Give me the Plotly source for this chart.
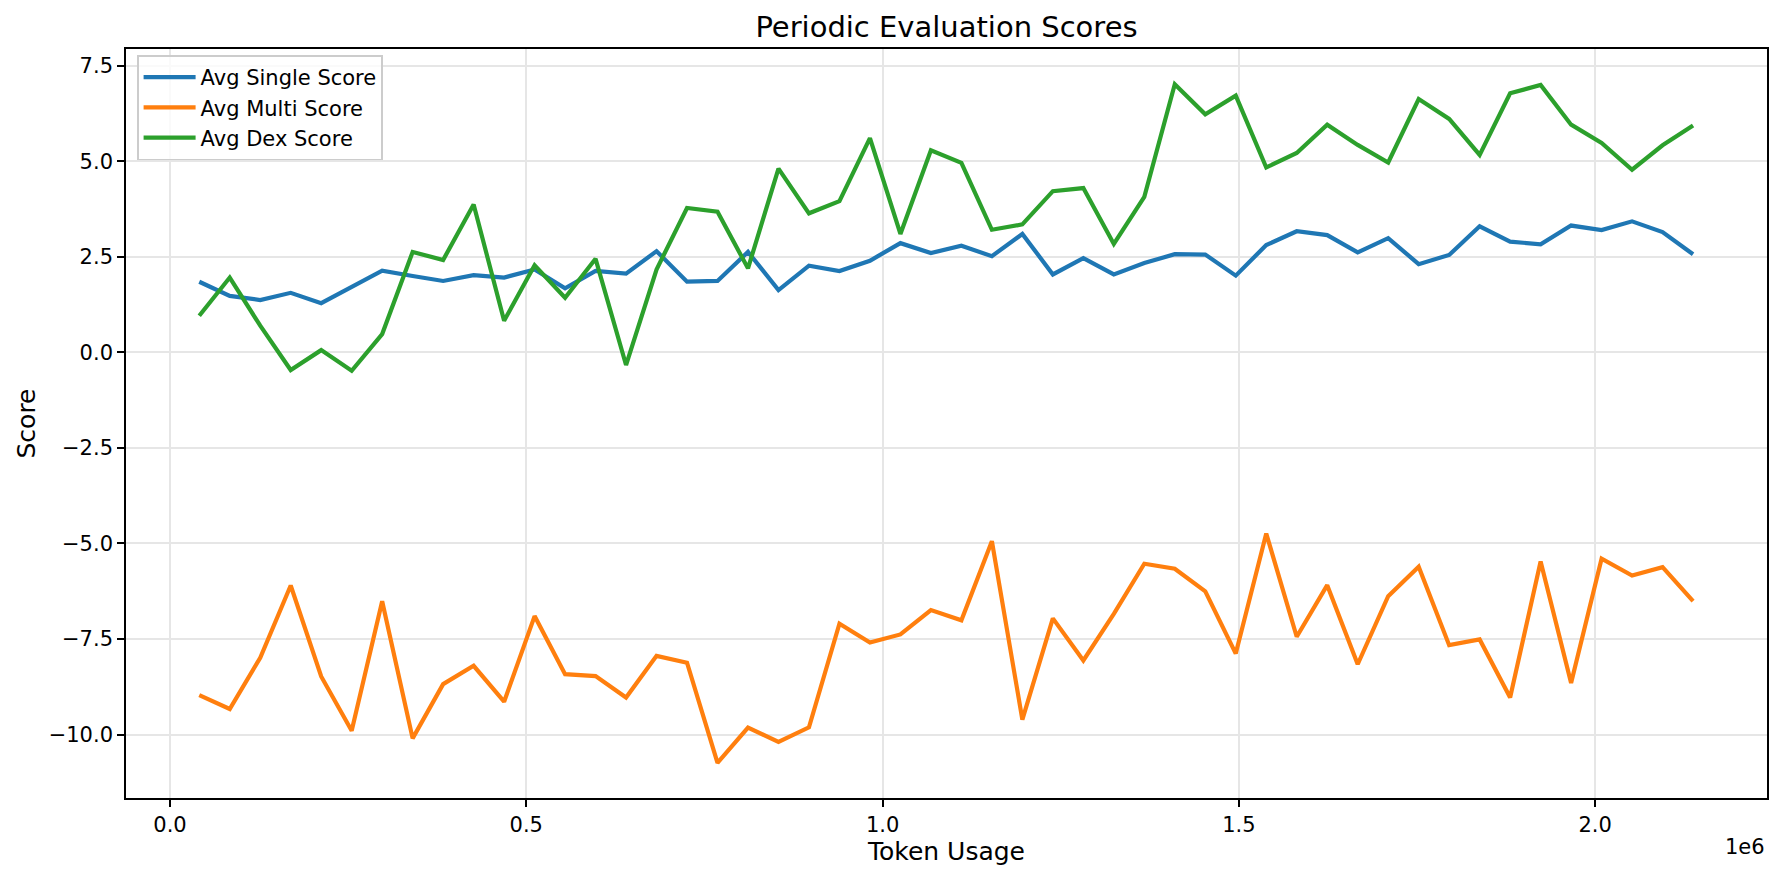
import plotly.graph_objects as go

# ---- data ----
token_usage = [41100, 83880, 126660, 169440, 212220, 255000, 297780, 340560, 383340, 426120,
               468900, 511680, 554460, 597240, 640020, 682800, 725580, 768360, 811140, 853920,
               896700, 939480, 982260, 1025040, 1067820, 1110600, 1153380, 1196160, 1238940, 1281720,
               1324500, 1367280, 1410060, 1452840, 1495620, 1538400, 1581180, 1623960, 1666740, 1709520,
               1752300, 1795080, 1837860, 1880640, 1923420, 1966200, 2008980, 2051760, 2094540, 2137320]

avg_single = [1.85, 1.48, 1.37, 1.56, 1.29, 1.72, 2.14, 2.00, 1.87, 2.02,
              1.96, 2.17, 1.68, 2.13, 2.06, 2.65, 1.85, 1.87, 2.63, 1.63,
              2.27, 2.13, 2.40, 2.86, 2.60, 2.79, 2.52, 3.10, 2.04, 2.47,
              2.04, 2.34, 2.57, 2.56, 2.01, 2.81, 3.17, 3.07, 2.62, 2.99,
              2.31, 2.55, 3.30, 2.90, 2.83, 3.32, 3.20, 3.43, 3.15, 2.57]

avg_multi = [-8.97, -9.33, -7.99, -6.10, -8.48, -9.90, -6.51, -10.10, -8.68, -8.20,
             -9.14, -6.90, -8.42, -8.47, -9.03, -7.94, -8.12, -10.74, -9.82, -10.19,
             -9.81, -7.10, -7.59, -7.38, -6.74, -7.01, -4.94, -9.61, -6.96, -8.06,
             -6.84, -5.53, -5.66, -6.25, -7.88, -4.74, -7.44, -6.09, -8.16, -6.38,
             -5.61, -7.66, -7.51, -9.03, -5.47, -8.65, -5.40, -5.84, -5.62, -6.51]

avg_dex = [0.96, 1.96, 0.70, -0.46, 0.06, -0.48, 0.48, 2.63, 2.42, 3.87,
           0.83, 2.28, 1.43, 2.45, -0.33, 2.17, 3.78, 3.68, 2.20, 4.81,
           3.64, 3.96, 5.61, 3.10, 5.29, 4.96, 3.21, 3.35, 4.22, 4.30,
           2.84, 4.07, 7.02, 6.23, 6.72, 4.84, 5.22, 5.96, 5.43, 4.97,
           6.63, 6.11, 5.17, 6.78, 7.00, 5.96, 5.48, 4.78, 5.42, 5.94]

series_names = ["Avg Single Score", "Avg Multi Score", "Avg Dex Score"]
series_colors = ["#1f77b4", "#ff7f0e", "#2ca02c"]

x_tick_vals = [0, 500000, 1000000, 1500000, 2000000]
x_tick_text = ["0.0", "0.5", "1.0", "1.5", "2.0"]
y_tick_vals = [-10.0, -7.5, -5.0, -2.5, 0.0, 2.5, 5.0, 7.5]

FONT = "DejaVu Sans"

fig = go.Figure()
for name, vals, col in zip(series_names, [avg_single, avg_multi, avg_dex], series_colors):
    fig.add_trace(go.Scatter(x=token_usage, y=vals, mode="lines", name=name,
                             line=dict(color=col, width=4.2)))

axis_common = dict(
    showline=True, mirror=True, linecolor="black", linewidth=1.6,
    ticks="outside", ticklen=7, tickwidth=1.6, tickcolor="black",
    showgrid=True, gridcolor="#e6e6e6", gridwidth=1.6,
    zeroline=False,
    tickfont=dict(family=FONT, size=21, color="black"),
)

fig.update_xaxes(
    range=[-61700, 2241100],
    tickmode="array", tickvals=x_tick_vals, ticktext=x_tick_text,
    title=dict(text="Token Usage", font=dict(family=FONT, size=25, color="black"), standoff=5),
    **axis_common,
)
fig.update_yaxes(
    range=[-11.66, 7.94],
    tickmode="array", tickvals=y_tick_vals, tickformat=".1f",
    title=dict(text="Score", font=dict(family=FONT, size=25, color="black"), standoff=6),
    **axis_common,
)

fig.update_layout(
    width=1782, height=880,
    margin=dict(l=126, r=15, t=49, b=82),
    paper_bgcolor="white", plot_bgcolor="white",
    font=dict(family=FONT, color="black"),
    title=dict(text="Periodic Evaluation Scores", x=0.5, xref="paper", xanchor="center",
               y=0.969, yref="container", yanchor="middle",
               font=dict(family=FONT, size=29, color="black")),
    legend=dict(x=0.0067, y=0.9915, xanchor="left", yanchor="top",
                bgcolor="rgba(255,255,255,0.8)", bordercolor="#cccccc", borderwidth=1.6,
                font=dict(family=FONT, size=21, color="black"),
                itemwidth=52, tracegroupgap=0),
    showlegend=True,
    annotations=[dict(text="1e6", x=1, xref="paper", xanchor="right",
                      y=-0.066, yref="paper", yanchor="middle", showarrow=False,
                      font=dict(family=FONT, size=21, color="black"))],
)

fig.write_html("out.html")
